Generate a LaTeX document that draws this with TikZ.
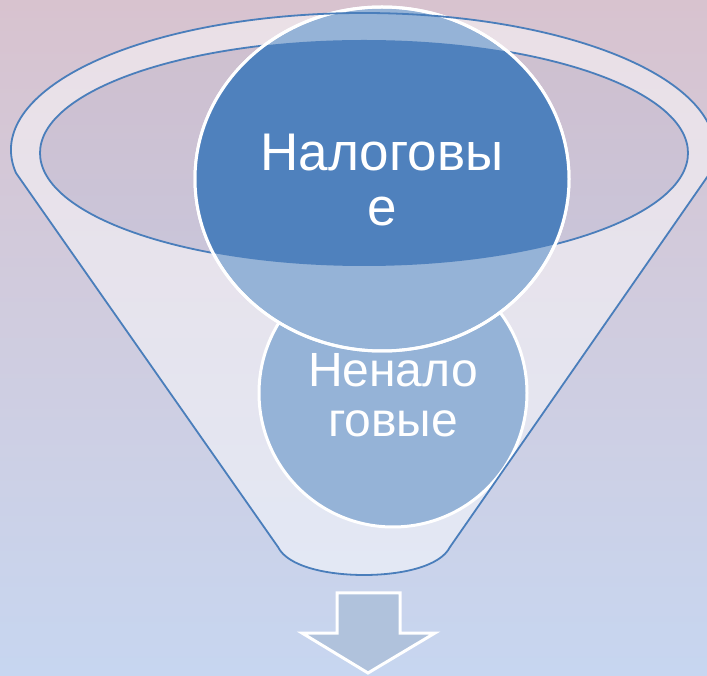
\documentclass[tikz,border=0pt]{standalone}
\usepackage{fontspec}
\setmainfont{Liberation Sans}

\definecolor{bgtop}{RGB}{216,195,207}
\definecolor{bgbot}{RGB}{199,214,240}
\definecolor{rimblue}{RGB}{74,126,187}
\definecolor{diskdark}{RGB}{79,129,189}
\definecolor{disklight}{RGB}{149,179,215}
\definecolor{arrowfill}{RGB}{176,194,220}

\tikzset{
  rim/.style={draw=rimblue, line width=1.8pt},
  disk/.style={draw=white, line width=3pt},
  disklabel/.style={text=white, align=center},
}

\begin{document}
\begin{tikzpicture}[x=1pt,y=1pt]
      \useasboundingbox (0,0) rectangle (707,675);
      \shade[top color=bgtop, bottom color=bgbot] (0,0) rectangle (707,675);
      % funnel body, open at the top
      \fill[white, fill opacity=.48, even odd rule]
        (16,502) arc[start angle=189.67, end angle=-9.67, x radius=352, y radius=137]
        -- (450,128) .. controls (440,108) and (400,100) .. (364,100)
        .. controls (328,100) and (288,108) .. (278,128) -- cycle
        (364,522) ellipse [x radius=324, y radius=113];
      \fill[diskdark, fill opacity=.06] (364,522) ellipse [x radius=324, y radius=113];
      \draw[rim] (364,522) ellipse [x radius=324, y radius=113];
      % lower disk
      \filldraw[disk, fill=disklight] (393,282) circle (134);
      \node[disklabel, font=\fontsize{48}{50}\selectfont] (nontax) at (393,280) {Ненало\\говые};
      % upper disk
      \filldraw[disk, fill=disklight] (382,496) ellipse [x radius=187, y radius=172];
      \begin{scope}
        \clip (364,522) ellipse [x radius=324, y radius=113];
        \fill[diskdark] (382,496) ellipse [x radius=187, y radius=172];
      \end{scope}
      \draw[disk] (382,496) ellipse [x radius=187, y radius=172];
      \node[disklabel, font=\fontsize{53}{55}\selectfont] (tax) at (382,495) {Налоговы\\е};
      % funnel outline
      \draw[rim]
        (16,502) arc[start angle=189.67, end angle=-9.67, x radius=352, y radius=137]
        -- (450,128) .. controls (440,108) and (400,100) .. (364,100)
        .. controls (328,100) and (288,108) .. (278,128) -- cycle;
      % outlet arrow
      \filldraw[disk, fill=arrowfill] (337,82) -- (400,82) -- (400,42) -- (435,42)
        -- (368,2) -- (302,42) -- (337,42) -- cycle;
    \end{tikzpicture}
\end{document}
